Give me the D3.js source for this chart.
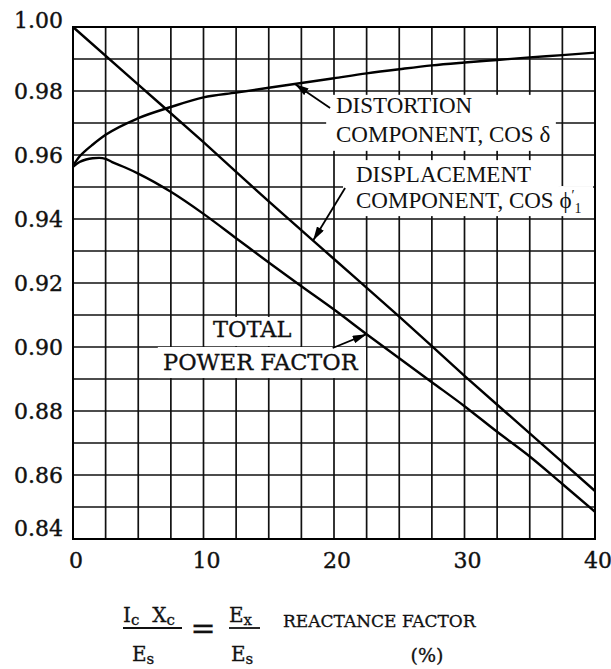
<!DOCTYPE html>
<html>
<head>
<meta charset="utf-8">
<script src="https://cdn.jsdelivr.net/npm/d3@7"></script>
<style>
  body { margin: 0; background: #fff; }
  svg { display: block; }
  .grid line { stroke: #111; stroke-width: 1.7; }
  .curve { fill: none; stroke: #000; stroke-width: 2.4; }
  .tick-label { font-family: "DejaVu Serif", serif; font-size: 22px; fill: #111; stroke: #111; stroke-width: 0.4; }
  .note { font-family: "Liberation Serif", serif; font-size: 23px; fill: #111; }
  .note2 { font-family: "DejaVu Serif", serif; font-size: 22.5px; fill: #111; stroke: #111; stroke-width: 0.3; }
  .title { font-family: "DejaVu Serif", serif; font-size: 17px; fill: #111; stroke: #111; stroke-width: 0.3; }
</style>
</head>
<body>
<svg width="611" height="669"></svg>
<script>
// values
let xTicks = [0, 10, 20, 30, 40];
let yTicks = [0.84, 0.86, 0.88, 0.90, 0.92, 0.94, 0.96, 0.98, 1.00];

let distortionX = [0, 0.5, 1, 1.5, 2.5, 5, 7.5, 10, 12.5, 15, 17.5, 20, 22.5, 25, 27.5, 30, 32.5, 35, 37.5, 40];
let distortionY = [0.9566, 0.9595, 0.9615, 0.9632, 0.9663, 0.9715, 0.975, 0.978, 0.9795, 0.981, 0.9825, 0.984, 0.9855, 0.9868, 0.988, 0.9889, 0.9897, 0.9905, 0.9912, 0.992];

let displacementX = [0, 5, 10, 15, 20, 25, 30, 35, 40];
let displacementY = [1.000, 0.982, 0.964, 0.9455, 0.9275, 0.9095, 0.891, 0.873, 0.855];

let totalX = [0, 0.5, 1, 1.5, 2, 2.5, 3, 4, 5, 7.5, 10, 12.5, 15, 17.5, 20, 22.5, 25, 27.5, 30, 32.5, 35, 37.5, 40];
let totalY = [0.9563, 0.9578, 0.9586, 0.959, 0.9591, 0.9588, 0.9578, 0.9561, 0.9542, 0.9485, 0.9416, 0.934, 0.9264, 0.919, 0.9117, 0.904, 0.8965, 0.889, 0.8815, 0.8735, 0.8658, 0.8572, 0.8485];

let svg = d3.select("svg");
let margin = { top: 27, right: 16, bottom: 130, left: 73 };
let width = +svg.attr("width") - margin.left - margin.right,
    height = +svg.attr("height") - margin.top - margin.bottom;

let x = d3.scaleLinear().domain([0, 40]).range([margin.left, margin.left + width]);
let y = d3.scaleLinear().domain([0.84, 1.0]).range([margin.top + height, margin.top]);

// grid every 2.5 % and every 0.01
let gridX = d3.range(0, 40.001, 2.5);
let gridY = d3.range(0, 17).map(i => 0.84 + i * 0.01);

let grid = svg.append("g").classed("grid", true);
grid.selectAll(".gx").data(gridX).enter().append("line")
    .attr("x1", d => x(d)).attr("x2", d => x(d))
    .attr("y1", y(0.84)).attr("y2", y(1.0));
grid.selectAll(".gy").data(gridY).enter().append("line")
    .attr("x1", x(0)).attr("x2", x(40))
    .attr("y1", d => y(d)).attr("y2", d => y(d));

// white patches where the labels sit on the grid (x from, x to, y top, y bottom)
let boxes = [
    [19.4, 37.0, 0.9788, 0.9613],
    [20.7, 37.2, 0.9584, 0.9497],
    [20.7, 39.85, 0.9503, 0.9409],
    [10.1, 17.4, 0.9094, 0.9003],
    [6.5, 22.45, 0.9, 0.8903]
];
svg.selectAll(".box").data(boxes).enter().append("rect")
    .attr("x", d => x(d[0])).attr("width", d => x(d[1]) - x(d[0]))
    .attr("y", d => y(d[2])).attr("height", d => y(d[3]) - y(d[2]))
    .attr("fill", "#fff");

// frame
svg.append("rect")
    .attr("x", x(0)).attr("y", y(1.0))
    .attr("width", width).attr("height", height)
    .attr("fill", "none").attr("stroke", "#000").attr("stroke-width", 2);

let line = d3.line().x(d => x(d[0])).y(d => y(d[1])).curve(d3.curveMonotoneX);
[[distortionX, distortionY], [displacementX, displacementY], [totalX, totalY]].forEach(s => {
    svg.append("path")
        .datum(d3.zip(s[0], s[1]))
        .classed("curve", true)
        .attr("d", line);
});

// tick labels
svg.selectAll(".ylab").data(yTicks).enter().append("text")
    .classed("tick-label", true)
    .attr("x", x(0) - 10)
    .attr("y", d => y(d))
    .attr("dy", d => d === 1.0 ? "0.05em" : (d === 0.84 ? "-0.15em" : "0.35em"))
    .attr("text-anchor", "end")
    .text(d => d3.format(".2f")(d));

svg.selectAll(".xlab").data(xTicks).enter().append("text")
    .classed("tick-label", true)
    .attr("x", d => x(d) + 3)
    .attr("y", y(0.84) + 29)
    .attr("text-anchor", "middle")
    .text(d => d);

// annotations
function valueAt(xs, ys, v) {
    let i = Math.min(Math.max(d3.bisectLeft(xs, v), 1), xs.length - 1);
    let t = (v - xs[i - 1]) / (xs[i] - xs[i - 1]);
    return ys[i - 1] + t * (ys[i] - ys[i - 1]);
}

svg.append("defs").append("marker")
    .attr("id", "arrow")
    .attr("viewBox", "0 0 14 8")
    .attr("refX", 14).attr("refY", 4)
    .attr("markerWidth", 14).attr("markerHeight", 8)
    .attr("markerUnits", "userSpaceOnUse")
    .attr("orient", "auto")
    .append("path").attr("d", "M0,0 L14,4 L0,8 z").attr("fill", "#000");

let leaders = [
    [19.7, 0.9747, 17.0, valueAt(distortionX, distortionY, 17.0)],
    [20.85, 0.9497, 18.4, valueAt(displacementX, displacementY, 18.4)],
    [19.9, 0.8997, 22.5, valueAt(totalX, totalY, 22.5)]
];
svg.selectAll(".leader").data(leaders).enter().append("line")
    .attr("x1", d => x(d[0])).attr("y1", d => y(d[1]))
    .attr("x2", d => x(d[2])).attr("y2", d => y(d[3]))
    .attr("stroke", "#000").attr("stroke-width", 1.8)
    .attr("marker-end", "url(#arrow)");

svg.append("text").classed("note", true).attr("x", 336).attr("y", 113).text("DISTORTION");
svg.append("text").classed("note", true).attr("x", 336).attr("y", 142).text("COMPONENT, COS δ");
svg.append("text").classed("note", true).attr("x", 356).attr("y", 182).text("DISPLACEMENT");
let phi = svg.append("text").classed("note", true).attr("x", 356).attr("y", 208);
phi.append("tspan").text("COMPONENT, COS ϕ");
phi.append("tspan").attr("font-size", 14).attr("dy", -8).text("′");
phi.append("tspan").attr("font-size", 14).attr("dy", 13).text("1");

svg.append("text").classed("note2", true).attr("x", 213).attr("y", 337).text("TOTAL");
svg.append("text").classed("note2", true).attr("x", 163).attr("y", 370).text("POWER FACTOR");

// axis title: Ic Xc / Es = Ex / Es  REACTANCE FACTOR (%)
let t = svg.append("g").classed("title", true);
let num1 = t.append("text").attr("x", 123).attr("y", 622).attr("font-size", 20);
num1.append("tspan").text("I");
num1.append("tspan").attr("font-size", 15).attr("dy", 3).text("c");
num1.append("tspan").attr("dx", 13).attr("dy", -3).text("X");
num1.append("tspan").attr("font-size", 15).attr("dy", 3).text("c");
t.append("line").attr("x1", 123).attr("x2", 182).attr("y1", 628).attr("y2", 628)
    .attr("stroke", "#111").attr("stroke-width", 1.8);
let den1 = t.append("text").attr("x", 132).attr("y", 661).attr("font-size", 20);
den1.append("tspan").text("E");
den1.append("tspan").attr("font-size", 15).attr("dy", 3).text("s");

t.append("text").attr("x", 203).attr("y", 638).attr("text-anchor", "middle")
    .attr("font-size", 30).text("=");

let num2 = t.append("text").attr("x", 229).attr("y", 622).attr("font-size", 20);
num2.append("tspan").text("E");
num2.append("tspan").attr("font-size", 15).attr("dy", 3).text("x");
t.append("line").attr("x1", 229).attr("x2", 260).attr("y1", 628).attr("y2", 628)
    .attr("stroke", "#111").attr("stroke-width", 1.8);
let den2 = t.append("text").attr("x", 231).attr("y", 661).attr("font-size", 20);
den2.append("tspan").text("E");
den2.append("tspan").attr("font-size", 15).attr("dy", 3).text("s");

t.append("text").attr("x", 283).attr("y", 627).text("REACTANCE FACTOR");
t.append("text").attr("x", 427).attr("y", 662).attr("text-anchor", "middle")
    .attr("font-size", 19).text("(%)");
</script>
</body>
</html>
